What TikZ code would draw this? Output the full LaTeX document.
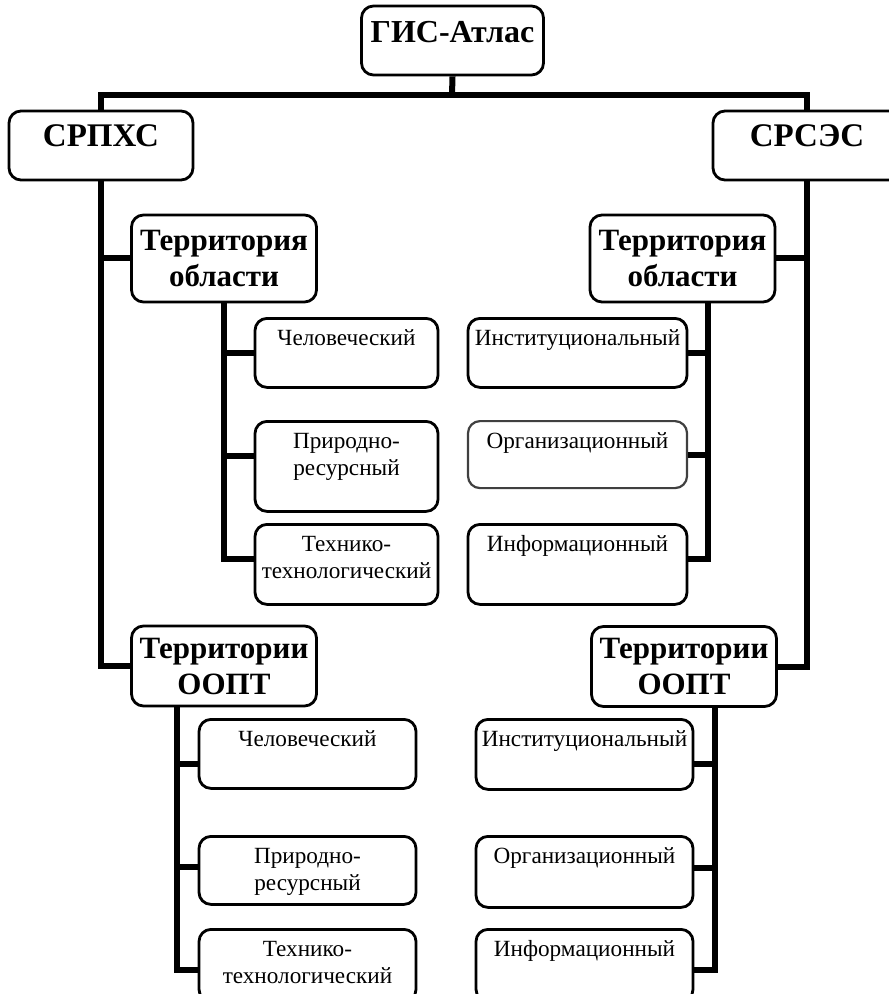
\documentclass[tikz,border=0pt]{standalone}
\usepackage{fontspec}
\setmainfont{Liberation Serif}
\begin{document}
\begin{tikzpicture}[x=0.5pt, y=-0.5pt,
  box/.style={draw, rounded corners=6pt, line width=1.4pt, inner sep=1pt},
  root/.style={box, font=\bfseries\fontsize{16}{19}\selectfont, inner ysep=0pt, minimum width=91pt, text height=18.5pt, text depth=16pt},
  sys/.style={box, font=\bfseries\fontsize{16.5}{19}\selectfont, inner ysep=0pt, minimum width=92pt, text height=18pt, text depth=16.5pt},
  head/.style={box, font=\bfseries\fontsize{15.5}{18}\selectfont, align=center, minimum width=92.5pt, minimum height=43.5pt},
  leaf/.style={box, anchor=north, font=\fontsize{11.6}{13.5}\selectfont, align=center, inner ysep=0pt, text width=#1, text height=13.5pt},
  conn/.style={line width=3pt}]
  \useasboundingbox (0,0) rectangle (888,994);
  \node[root] (gis) at (452.5,40.5) {ГИС-Атлас};
  \node[sys] (srphs) at (101,145.5) {СРПХС};
  \node[sys, minimum width=94pt] (srses) at (807,145.5) {СРСЭС};
  \node[head] (lreg) at (224,258.5) {Территория\\области};
  \node[head] (rreg) at (682.5,258.5) {Территория\\области};
  \node[head, minimum height=40pt] (loopt) at (224,666) {Территории\\ООПТ};
  \node[head, minimum height=40pt] (roopt) at (684,666.5) {Территории\\ООПТ};
  \node[leaf=89.5pt, text depth=21pt] (lh) at (346.5,317) {Человеческий};
  \node[leaf=89.5pt, text depth=31.5pt] (lp) at (346.5,420) {Природно-\\ресурсный};
  \node[leaf=89.5pt, text depth=26.5pt] (lt) at (346.5,523) {Технико-\\технологический};
  \node[leaf=107.5pt, text depth=21pt] (ri) at (577.5,317) {Институциональный};
  \node[leaf=107.5pt, text depth=20pt, draw=black!75, line width=1.1pt] (ro) at (577.5,420) {Организационный};
  \node[leaf=107.5pt, text depth=26.5pt] (rf) at (577.5,523) {Информационный};
  \node[leaf=106.5pt, text depth=21pt] (lh2) at (307.5,718) {Человеческий};
  \node[leaf=106.5pt, text depth=20.5pt] (lp2) at (307.5,835) {Природно-\\ресурсный};
  \node[leaf=106.5pt, text depth=22.5pt] (lt2) at (307.5,928) {Технико-\\технологический};
  \node[leaf=106.5pt, text depth=21.5pt] (ri2) at (584.5,718) {Институциональный};
  \node[leaf=106.5pt, text depth=22pt] (ro2) at (584.5,835) {Организационный};
  \node[leaf=106.5pt, text depth=22.5pt] (rf2) at (584.5,928) {Информационный};
  \coordinate (bar) at (452,95);
  \coordinate (rlane) at (708,0);
  \coordinate (llane) at (177,0);
  \coordinate (olane) at (715,0);
  \draw[conn] (gis.south) -- (bar);
  \draw[conn] (srphs.north) |- (bar) -| (srses.north);
  \draw[conn] (srphs.south) |- (lreg.west);
  \draw[conn] (srphs.south) |- (loopt.west);
  \draw[conn] (srses.south) |- (rreg.east);
  \draw[conn] (srses.south) |- (roopt.east);
  \foreach \n/\s in {lh/0, lp/5, lt/2.5}
    \draw[conn] (lreg.south) |- ([yshift=\s pt]\n.west);
  \foreach \n/\s in {ri/0, ro/0, rf/2.5}
    \draw[conn] (rreg.south -| rlane) |- ([yshift=\s pt]\n.east);
  \foreach \n/\s in {lh2/-5, lp2/1.5, lt2/-2.5}
    \draw[conn] (loopt.south -| llane) |- ([yshift=\s pt]\n.west);
  \foreach \n/\s in {ri2/-5, ro2/2, rf2/-2.5}
    \draw[conn] (roopt.south -| olane) |- ([yshift=\s pt]\n.east);
\end{tikzpicture}
\end{document}
